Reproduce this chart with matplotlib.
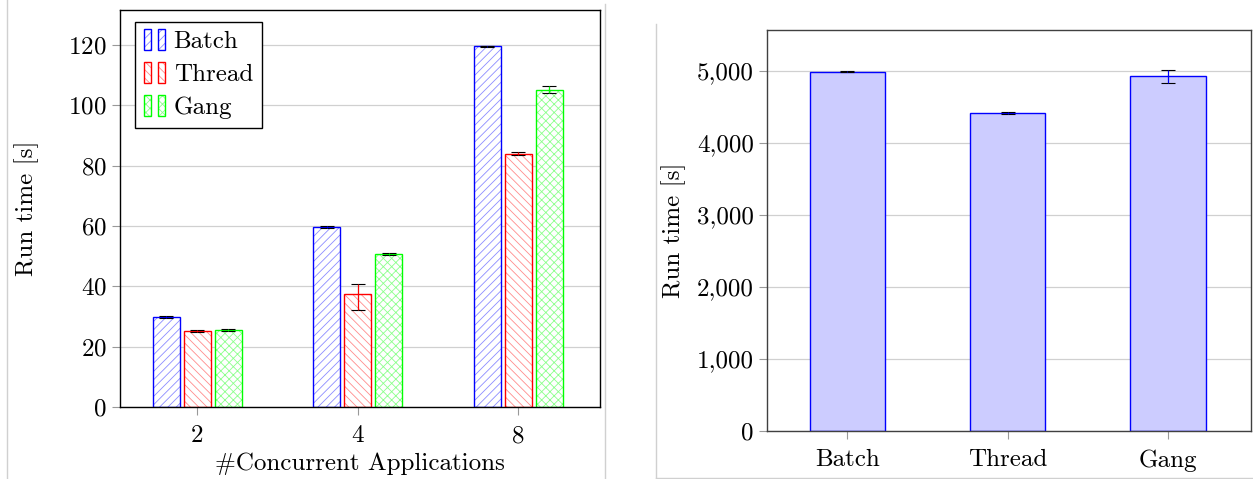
import numpy as np
import matplotlib
matplotlib.use('Agg')
import matplotlib.pyplot as plt
from matplotlib.patches import Rectangle
from matplotlib.lines import Line2D
from matplotlib.legend_handler import HandlerBase
from matplotlib.ticker import FuncFormatter

plt.rcParams['font.family'] = ['cmr10', 'DejaVu Serif']
plt.rcParams['axes.formatter.use_mathtext'] = True
plt.rcParams['mathtext.fontset'] = 'cm'
plt.rcParams['hatch.linewidth'] = 0.6

# left chart data
groups = ['2', '4', '8']
series = ['Batch', 'Thread', 'Gang']
batch = [29.8, 59.7, 119.6]
thread = [25.2, 37.4, 84.0]
gang = [25.5, 50.7, 105.1]
batch_err_lo = [0.2, 0.2, 0.2]
batch_err_hi = [0.2, 0.2, 0.2]
thread_err_lo = [0.2, 5.3, 0.5]
thread_err_hi = [0.2, 3.3, 0.5]
gang_err_lo = [0.2, 0.2, 1.0]
gang_err_hi = [0.2, 0.2, 1.2]

# right chart data
modes = ['Batch', 'Thread', 'Gang']
runtime = [4990, 4415, 4925]
runtime_err = [8, 18, 95]

colors = ['#0000ff', '#ff0000', '#00ff00']
fills = ['#8c8cff', '#ff8c8c', '#8cff8c']
hatches = ['////', '\\\\\\\\', 'xxxx']
FS = 18


class TwoBoxHandler(HandlerBase):
    def create_artists(self, legend, orig, xd, yd, w, h, fontsize, trans):
        arts = []
        bw = w * 0.33
        for x0 in (0, w * 0.67):
            r = Rectangle((x0 - xd, -yd - h * 0.1), bw, h * 1.2,
                          facecolor='white', edgecolor=orig.get_edgecolor(),
                          hatch=orig.get_hatch(), lw=1.0, transform=trans)
            r._hatch_color = orig._hatch_color
            arts.append(r)
        return arts


fig = plt.figure(figsize=(12.53, 4.79), dpi=100)
W, H = 1253, 479

# ---- left chart ----
ax1 = fig.add_axes([120 / W, 1 - 407 / H, 480 / W, 397 / H])
x = np.arange(len(groups))
bw = 0.168
step = 0.193
vals = [batch, thread, gang]
lo = [batch_err_lo, thread_err_lo, gang_err_lo]
hi = [batch_err_hi, thread_err_hi, gang_err_hi]
handles = []
for i in range(3):
    xs = x + (i - 1) * step
    b = ax1.bar(xs, vals[i], bw, facecolor='white', edgecolor=colors[i],
                hatch=hatches[i], lw=1.0, zorder=2, label=series[i])
    for p in b.patches:
        p._hatch_color = matplotlib.colors.to_rgba(fills[i])
    ax1.errorbar(xs, vals[i], yerr=[lo[i], hi[i]], fmt='none', ecolor='black',
                 elinewidth=0.8, capsize=5, capthick=0.8, zorder=3)
    ax1.errorbar(xs, vals[i], yerr=[lo[i], hi[i]], fmt='none', ecolor=colors[i],
                 elinewidth=0.8, zorder=4)
    handles.append(b.patches[0])

ax1.set_xlim(-0.48, 2.51)
ax1.set_ylim(0, 131.6)
ax1.set_yticks([0, 20, 40, 60, 80, 100, 120])
ax1.set_xticks(x)
ax1.set_xticklabels(groups)
ax1.set_xlabel('#Concurrent Applications', fontsize=FS, labelpad=4)
ax1.set_ylabel('Run time [s]', fontsize=FS, labelpad=21)
ax1.grid(axis='y', color='#d0d0d0', lw=0.9, zorder=0)
ax1.set_axisbelow(True)
ax1.tick_params(labelsize=FS, direction='out', color='#999999', length=6, width=0.8)
ax1.tick_params(axis='x', pad=7)
for s in ax1.spines.values():
    s.set_color('black')
    s.set_linewidth(1.0)
leg = ax1.legend(handles, series, loc='upper left', fontsize=FS,
                 handler_map={h: TwoBoxHandler() for h in handles},
                 handlelength=0.84, handletextpad=0.36, labelspacing=0.42,
                 borderpad=0.35, borderaxespad=0, fancybox=False, edgecolor='black',
                 framealpha=1, bbox_to_anchor=(0.031, 0.97))
leg.get_frame().set_linewidth(1.0)

# ---- right chart ----
ax2 = fig.add_axes([767 / W, 1 - 431 / H, 484 / W, 401 / H])
xr = np.arange(len(modes))
ax2.bar(xr, runtime, 0.47, facecolor='#ccccff', edgecolor='#0000ff', lw=1.0, zorder=2)
ax2.errorbar(xr, runtime, yerr=runtime_err, fmt='none', ecolor='black',
             elinewidth=0.8, capsize=5, capthick=0.8, zorder=3)
ax2.errorbar(xr, runtime, yerr=runtime_err, fmt='none', ecolor='#0000ff',
             elinewidth=0.8, zorder=4)
ax2.set_xlim(-0.5, 2.517)
ax2.set_ylim(0, 5570)
ax2.set_yticks([0, 1000, 2000, 3000, 4000, 5000])
ax2.yaxis.set_major_formatter(FuncFormatter(lambda v, p: f'{v:,.0f}'))
ax2.set_xticks(xr)
ax2.set_xticklabels(modes)
ax2.set_ylabel('Run time [s]', fontsize=FS, labelpad=8)
ax2.grid(axis='y', color='#d0d0d0', lw=0.9, zorder=0)
ax2.set_axisbelow(True)
ax2.tick_params(labelsize=FS, direction='out', color='#999999', length=6, width=0.8)
ax2.tick_params(axis='x', pad=7)
for s in ax2.spines.values():
    s.set_color('#404040')
    s.set_linewidth(1.0)

# panel frames
fc = '#d0d0d0'
fig.add_artist(Line2D([7 / W, 7 / W], [0, 1], color=fc, lw=1))
fig.add_artist(Line2D([605 / W, 605 / W], [0, 1 - 4 / H], color=fc, lw=1))
fig.add_artist(Line2D([656 / W, 656 / W], [1 - 478 / H, 1 - 24 / H], color=fc, lw=1))
fig.add_artist(Line2D([656 / W, 1], [1 - 478 / H, 1 - 478 / H], color=fc, lw=1))

fig.savefig('out.png', dpi=100)
